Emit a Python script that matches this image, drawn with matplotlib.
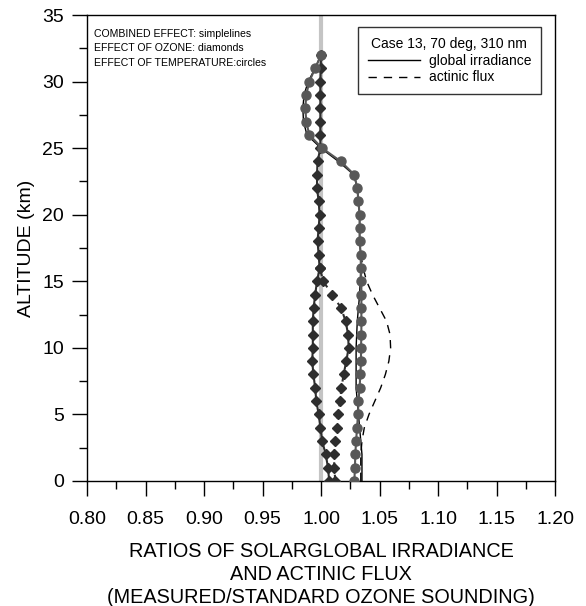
import numpy as np
import matplotlib
matplotlib.use('Agg')
import matplotlib.pyplot as plt
from matplotlib.ticker import MultipleLocator
from matplotlib.lines import Line2D

plt.rcParams['font.family'] = ['Liberation Sans', 'DejaVu Sans']

# altitude levels (km)
altitude = [0, 1, 2, 3, 4, 5, 6, 7, 8, 9, 10, 11, 12, 13, 14, 15, 16,
            17, 18, 19, 20, 21, 22, 23, 24, 25, 26, 27, 28, 29, 30, 31, 32]

# effect of ozone (diamonds), global irradiance and actinic flux
ozone_global = [1.007, 1.006, 1.004, 1.001, 0.9995, 0.998, 0.996, 0.995, 0.9935,
                0.9925, 0.993, 0.993, 0.993, 0.9937, 0.995, 0.9966, 0.9988,
                0.998, 0.997, 0.998, 0.9988, 0.998, 0.9966, 0.9966, 0.997,
                0.9995, 0.9995, 0.9995, 0.9995, 0.9995, 0.9995, 0.9998, 1.0]
ozone_actinic = [1.0122, 1.0114, 1.011, 1.0122, 1.0135, 1.0145, 1.0163, 1.0175,
                 1.0193, 1.0216, 1.0236, 1.0232, 1.021, 1.0172, 1.0094, 1.002,
                 0.9988]

# effect of temperature (circles)
temp_global = [1.0285, 1.029, 1.0293, 1.030, 1.0308, 1.0316, 1.032, 1.033, 1.0336,
               1.0342, 1.0342, 1.0345, 1.0345, 1.0345, 1.0345, 1.0345, 1.034,
               1.034, 1.033, 1.033, 1.033, 1.032, 1.031, 1.0285, 1.017, 1.001,
               0.990, 0.9874, 0.9866, 0.9874, 0.990, 0.995, 1.0]

# combined effect (simple lines)
combined_global = [1.035, 1.035, 1.035, 1.034, 1.033, 1.032, 1.031, 1.030, 1.030,
                   1.030, 1.030, 1.0305, 1.031, 1.032, 1.033, 1.0335, 1.034,
                   1.034, 1.033, 1.033, 1.033, 1.032, 1.031, 1.028, 1.015, 1.000,
                   0.988, 0.985, 0.9845, 0.9855, 0.989, 0.995, 1.0]
combined_actinic = [1.034, 1.034, 1.034, 1.035, 1.037, 1.041, 1.046, 1.051, 1.055,
                    1.058, 1.0595, 1.059, 1.056, 1.050, 1.044, 1.039, 1.036, 1.034]

fig = plt.figure(figsize=(5.86, 6.06), dpi=100)
ax = fig.add_axes([0.1485, 0.2063, 0.7986, 0.7689])

# reference line at ratio 1
ax.plot([1.0, 1.0], [0, 35], color='#c4c4c4', lw=3, zorder=1)

ax.plot(combined_global, altitude, color='black', lw=1.0, zorder=2)
ax.plot(combined_actinic, altitude[:len(combined_actinic)], color='black',
        lw=1.0, ls=(0, (6, 5)), zorder=2)

ax.plot(ozone_global, altitude, color='#2e2e2e', lw=1.5, marker='D', ms=5,
        zorder=3)
ax.plot(ozone_actinic, altitude[:len(ozone_actinic)], color='#2e2e2e', lw=1.5,
        ls=(0, (3, 3)), marker='D', ms=5, zorder=3)

ax.plot(temp_global, altitude, color='#585858', lw=1.5, marker='o', ms=6.5,
        zorder=4)

ax.set_xlim(0.80, 1.20)
ax.set_ylim(0, 35)
ax.xaxis.set_major_locator(MultipleLocator(0.05))
ax.xaxis.set_minor_locator(MultipleLocator(0.025))
ax.yaxis.set_major_locator(MultipleLocator(5))
ax.yaxis.set_minor_locator(MultipleLocator(2.5))
ax.xaxis.set_major_formatter(plt.FuncFormatter(lambda v, p: f'{v:.2f}'))
ax.tick_params(axis='both', which='major', direction='out', length=10.5,
               width=1.0, labelsize=14, pad=6)
ax.tick_params(axis='x', which='major', pad=11)
ax.tick_params(axis='both', which='minor', direction='out', length=5.5,
               width=1.0)
for s in ax.spines.values():
    s.set_linewidth(1.0)

ax.set_ylabel('ALTITUDE (km)', fontsize=14, labelpad=5)
ax.set_xlabel('RATIOS OF SOLARGLOBAL IRRADIANCE\nAND ACTINIC FLUX\n'
              '(MEASURED/STANDARD OZONE SOUNDING)', fontsize=14.3,
              linespacing=1.27, labelpad=10)

ax.text(0.014, 0.970, 'COMBINED EFFECT: simplelines\nEFFECT OF OZONE: diamonds\n'
        'EFFECT OF TEMPERATURE:circles', transform=ax.transAxes, fontsize=7.6,
        va='top', ha='left', linespacing=1.55)

handles = [Line2D([], [], color='black', lw=1.0),
           Line2D([], [], color='black', lw=1.0, ls=(0, (6, 5)))]
leg = ax.legend(handles, ['global irradiance', 'actinic flux'],
                title='Case 13, 70 deg, 310 nm', loc='upper right',
                bbox_to_anchor=(0.970, 0.974), borderaxespad=0, fontsize=10,
                title_fontsize=10, frameon=True, fancybox=False,
                edgecolor='black', handlelength=3.8, handletextpad=0.6,
                borderpad=0.7, labelspacing=0.2)
leg.get_frame().set_linewidth(1.0)

fig.savefig('out.png', dpi=100)
